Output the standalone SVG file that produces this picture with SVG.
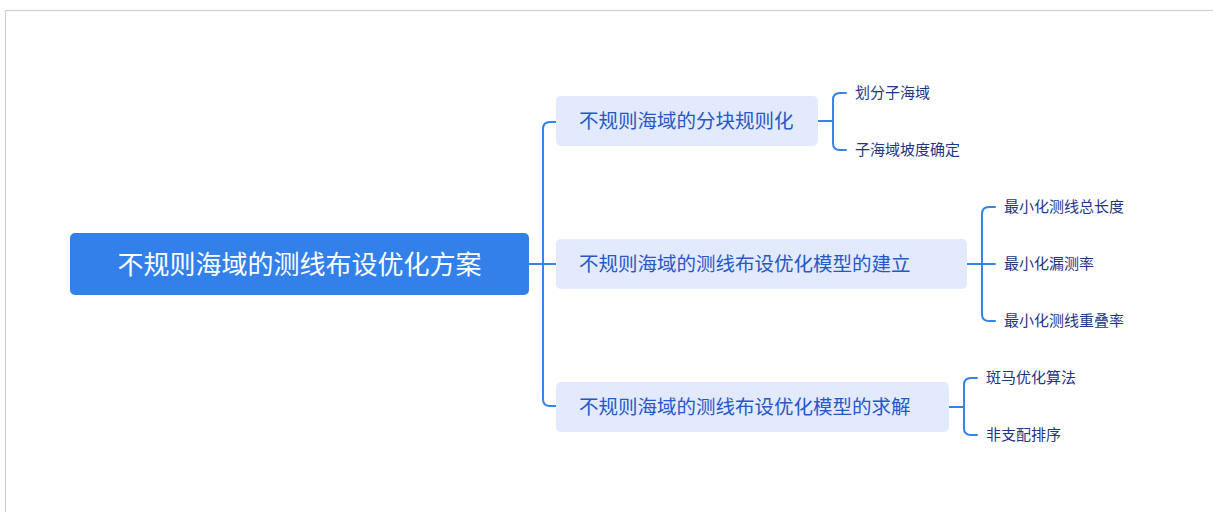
<svg xmlns="http://www.w3.org/2000/svg" width="1213" height="512" viewBox="0 0 1213 512">
<style>
.frame{fill:none;stroke:#cccccc;stroke-width:1}
.root{fill:#3281EB}
.roott{font-family:"Noto Sans CJK SC",sans-serif;font-size:26px;fill:#ffffff}
.sub{fill:#E3EAFD}
.subt{font-family:"Noto Sans CJK SC",sans-serif;font-size:19.5px;fill:#2559C9}
.leaf{font-family:"Noto Sans CJK SC",sans-serif;font-size:15px;fill:#1F3585}
.con{fill:none;stroke:#3683EC;stroke-width:2;stroke-linecap:round}
</style>
<rect x="0" y="0" width="1213" height="512" fill="#ffffff"/>
<path class="frame" d="M5.5,512 V10.5 H1213"/>
<g id="connectors">
<path class="con" d="M529,264 H556"/>
<path class="con" d="M556,122 H550 Q543,122 543,129 V399 Q543,406 550,406 H556"/>
<path class="con" d="M543,264 H556"/>
<path class="con" d="M818,121 H832"/>
<path class="con" d="M846,93 H840 Q833,93 833,100 V143 Q833,150 840,150 H846"/>
<path class="con" d="M967,264 H995"/>
<path class="con" d="M995,207 H989 Q982,207 982,214 V314 Q982,321 989,321 H995"/>
<path class="con" d="M949,407 H963"/>
<path class="con" d="M977,378 H971 Q964,378 964,385 V428 Q964,435 971,435 H977"/>
</g>
<g id="root">
<rect class="root" x="70" y="233" width="459" height="62" rx="5"/>
<text class="roott" x="299.5" y="262" text-anchor="middle" dominant-baseline="central">不规则海域的测线布设优化方案</text>
</g>
<g id="n1">
<rect class="sub" x="556" y="96" width="262" height="50" rx="5"/>
<text class="subt" x="579" y="119.5" dominant-baseline="central">不规则海域的分块规则化</text>
</g>
<g id="n2">
<rect class="sub" x="556" y="239" width="411" height="50" rx="5"/>
<text class="subt" x="579" y="262.5" dominant-baseline="central">不规则海域的测线布设优化模型的建立</text>
</g>
<g id="n3">
<rect class="sub" x="556" y="382" width="393" height="50" rx="5"/>
<text class="subt" x="579" y="405.5" dominant-baseline="central">不规则海域的测线布设优化模型的求解</text>
</g>
<g id="l1"><text class="leaf" x="855" y="91.5" dominant-baseline="central">划分子海域</text></g>
<g id="l2"><text class="leaf" x="855" y="148.5" dominant-baseline="central">子海域坡度确定</text></g>
<g id="l3"><text class="leaf" x="1004" y="205.5" dominant-baseline="central">最小化测线总长度</text></g>
<g id="l4"><text class="leaf" x="1004" y="262.5" dominant-baseline="central">最小化漏测率</text></g>
<g id="l5"><text class="leaf" x="1004" y="319.5" dominant-baseline="central">最小化测线重叠率</text></g>
<g id="l6"><text class="leaf" x="986" y="376.5" dominant-baseline="central">斑马优化算法</text></g>
<g id="l7"><text class="leaf" x="986" y="433.5" dominant-baseline="central">非支配排序</text></g>
</svg>
